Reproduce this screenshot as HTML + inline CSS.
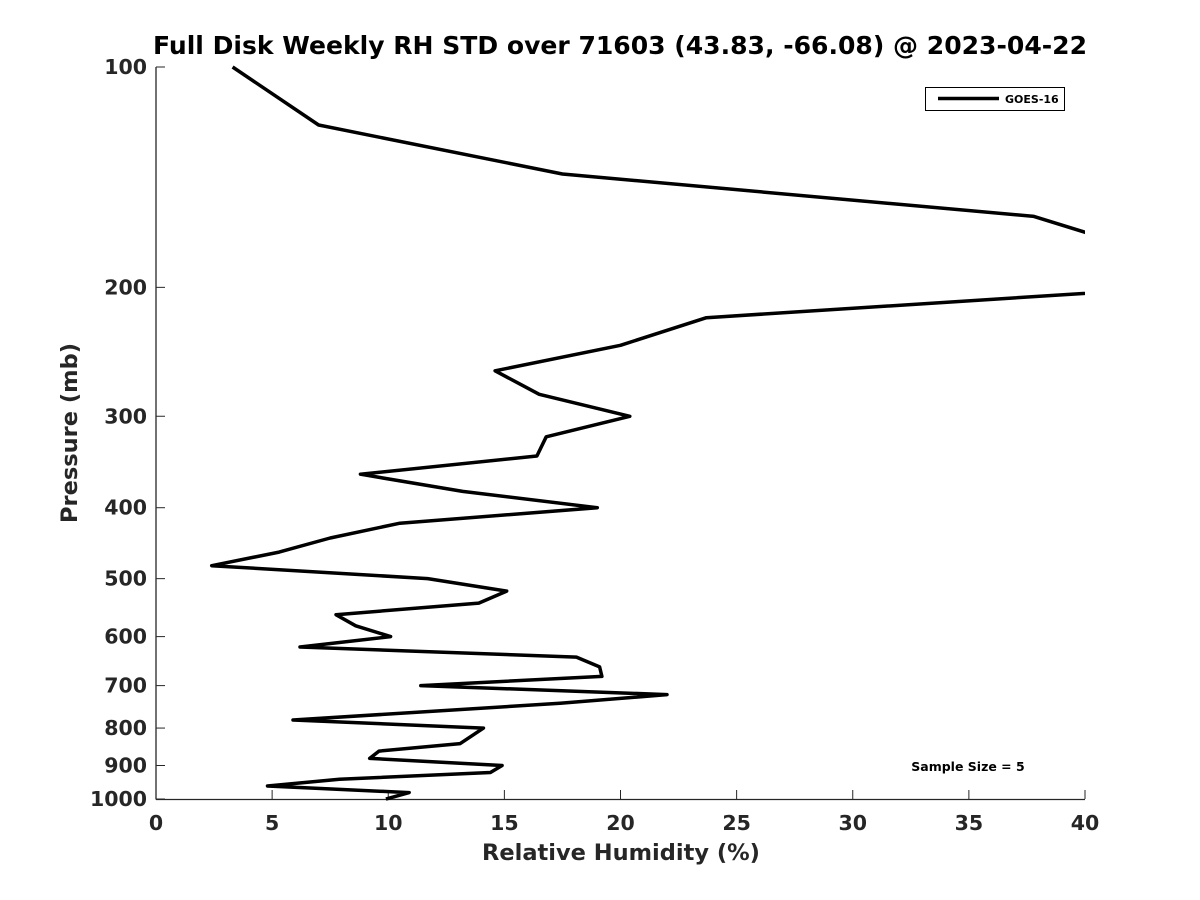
<!DOCTYPE html>
<html><head><meta charset="utf-8"><style>
body{margin:0;background:#fff}
svg{display:block;font-family:"DejaVu Sans","Liberation Sans",sans-serif;font-weight:bold}
</style></head><body>
<svg id="chart" width="1200" height="900">
<rect width="1200" height="900" fill="#fff"/>
<text x="620" y="54" text-anchor="middle" font-size="25" fill="#000" textLength="934" lengthAdjust="spacingAndGlyphs">Full Disk Weekly RH STD over 71603 (43.83, -66.08) @ 2023-04-22</text>
<defs><clipPath id="clip"><rect x="156" y="60" width="929" height="745"/></clipPath></defs>
<g id="axes"></g>
<g clip-path="url(#clip)"><path id="series" fill="none" stroke="#000" stroke-width="3.5" stroke-linejoin="round"/></g>
<text x="621" y="860" text-anchor="middle" font-size="22.5" fill="#262626">Relative Humidity (%)</text>
<text transform="translate(77,433) rotate(-90)" text-anchor="middle" font-size="22.5" fill="#262626">Pressure (mb)</text>
<g>
<rect x="925.5" y="87.5" width="139" height="23" fill="#fff" stroke="#000" stroke-width="1"/>
<line x1="938" y1="98.5" x2="999" y2="98.5" stroke="#000" stroke-width="3.5"/>
<text x="1005" y="103" font-size="11" fill="#000">GOES-16</text>
</g>
<text x="968" y="771" text-anchor="middle" font-size="12.5" fill="#000">Sample Size = 5</text>
</svg>
<script>
const rhValues=[3.3,7.0,17.5,37.8,43,44,23.7,20.0,14.6,16.5,20.4,16.8,16.4,8.8,13.2,19.0,10.5,7.5,5.3,2.4,11.7,15.1,13.9,7.75,8.6,10.1,6.2,18.1,19.1,19.2,11.4,22.0,17.4,5.9,14.1,13.1,9.6,9.2,14.9,14.4,7.9,4.8,10.9,9.9];
const pressures=[100,120,140,160,180,200,220,240,260,280,300,320,340,360,380,400,420,440,460,480,500,520,540,560,580,600,620,640,660,680,700,720,740,780,800,840,860,880,900,920,940,960,980,1000];
const xTicks=[0,5,10,15,20,25,30,35,40];
const yTicks=[100,200,300,400,500,600,700,800,900,1000];
const X0=156,X1=1085,Y0=67,Y1=799;
const xs=v=>X0+(v-0)/40*(X1-X0);
const ys=p=>Y0+Math.log10(p/100)*(Y1-Y0);
const NS="http://www.w3.org/2000/svg";
const ax=document.getElementById('axes');
function mk(t,a){const e=document.createElementNS(NS,t);for(const k in a)e.setAttribute(k,a[k]);ax.appendChild(e);return e;}
let l=mk('line',{x1:X0,y1:Y0,x2:X0,y2:Y1+0.5,stroke:'#262626','stroke-width':1.3});


l=mk('line',{x1:X0,y1:Y1+0.5,x2:X1,y2:Y1+0.5,stroke:'#262626','stroke-width':1.3});


xTicks.forEach(v=>{
 const x=xs(v);
 const t=mk('line',{x1:x,y1:Y1,x2:x,y2:Y1-9,stroke:'#262626','stroke-width':1});
 
 
 const tx=mk('text',{x:x,y:830,'text-anchor':'middle','font-size':20.5,fill:'#262626'});
 tx.textContent=v;
 
 
});
yTicks.forEach(p=>{
 const y=ys(p);
 const t=mk('line',{x1:X0,y1:y,x2:X0+9,y2:y,stroke:'#262626','stroke-width':1});
 
 
 const tx=mk('text',{x:147,y:y+7,'text-anchor':'end','font-size':20.5,fill:'#262626'});
 tx.textContent=p;
 
 
});
document.getElementById('series').setAttribute('d',rhValues.map((v,i)=>(i?'L':'M')+xs(v).toFixed(1)+','+ys(pressures[i]).toFixed(1)).join(''));
</script>
</body></html>
